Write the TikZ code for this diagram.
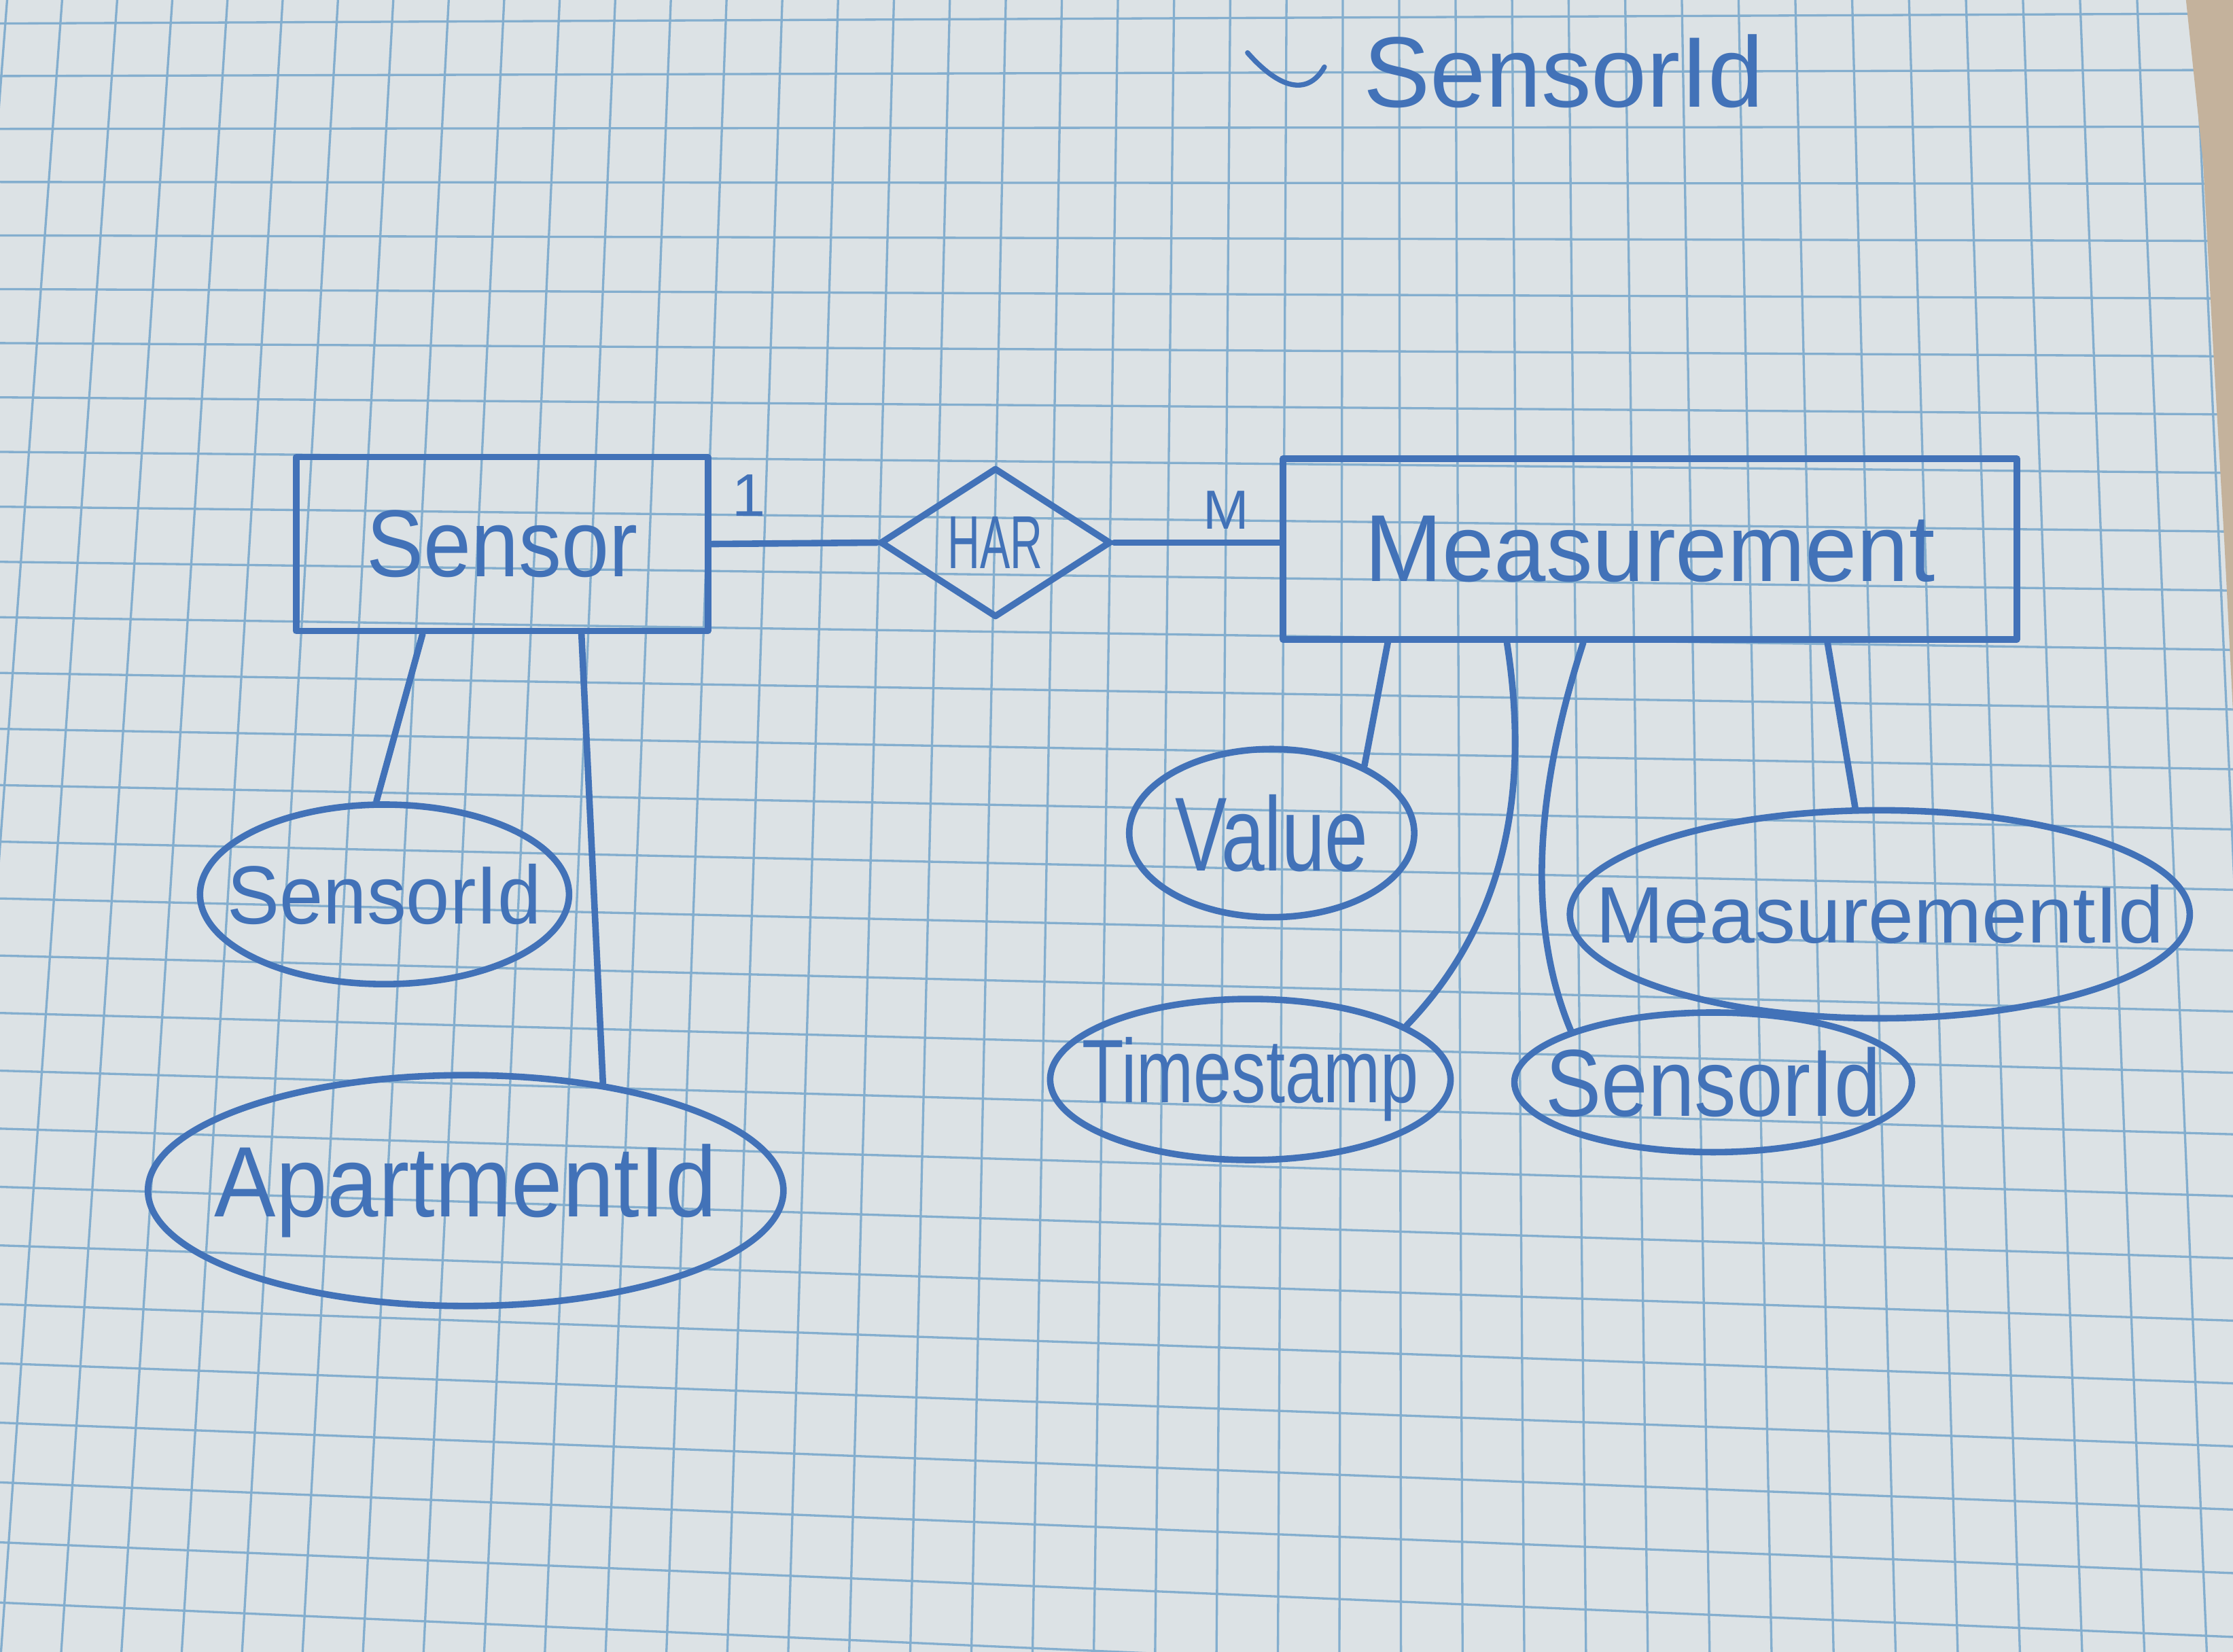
\documentclass[tikz,border=0pt]{standalone}
\usepackage{fontspec}
\setmainfont{Liberation Sans}
\usepackage{graphicx}
\usetikzlibrary{calc}
\usetikzlibrary{positioning}
\usetikzlibrary{shapes.geometric}

\definecolor{ink}{RGB}{66,114,184}
\definecolor{gridblue}{RGB}{132,174,206}
\definecolor{paper}{RGB}{220,226,229}
\definecolor{desk}{RGB}{196,178,156}

% handwritten-looking label: size, horizontal squeeze, text
\newcommand{\handtext}[3]{\fontsize{#1}{#1}\selectfont\makebox[0pt]{\scalebox{#2}[1]{#3}}}

\begin{document}
\begin{tikzpicture}[x=0.01cm, y=-0.01cm,
  pen/.style={ink, line width=1.3pt, line cap=round, line join=round},
  gridline/.style={gridblue, line width=0.45pt},
  entity/.style={pen, draw, rectangle, inner sep=0pt},
  rel/.style={pen, draw, diamond, inner sep=0pt},
  attr/.style={pen, draw, ellipse, inner sep=0pt},
  card/.style={text=ink, inner sep=0pt}]
\useasboundingbox (0,0) rectangle (1568,1160);
\fill[paper] (0,0) rectangle (1568,1160);
% squared paper
\begin{scope}
\clip (0,0) rectangle (1568,1160);
\foreach \i in {0,...,41} {
  \pgfmathsetmacro{\xt}{5+38.6*\i+0.02*\i*\i}
  \pgfmathsetmacro{\xb}{\xt+0.092*(\xt-969)}
  \draw[gridline] (\xt,0) -- (\xb,1160);
}
\foreach \n in {0,...,30} {
  \pgfmathsetmacro{\yl}{16.5+36.8*\n+0.1*\n*\n}
  \pgfmathsetmacro{\yr}{\yl-7+2.72*\n}
  \draw[gridline] (0,\yl) -- (1568,\yr);
}
\end{scope}
\fill[desk] (1535,0) -- (1547,114) -- (1554,243) -- (1562,382) -- (1568,500) -- (1568,0) -- cycle;

% note at the top
\node[card] (topid) at (1098,50) {\handtext{20}{1}{SensorId}};
\draw[pen, line width=1pt] (876,37) .. controls (898,62) and (918,68) .. (930,47);

% entities and relation
\node[entity, minimum width=2.89cm, minimum height=1.22cm] (sensor) at (352.5,382) {\handtext{19}{0.9}{Sensor}};
\node[entity, minimum width=5.15cm, minimum height=1.27cm] (meas) at (1158.5,385.5) {\handtext{19}{0.98}{Measurement}};
\node[rel, minimum width=1.62cm, minimum height=1.05cm] (har) at (699,381) {\handtext{15}{0.6}{HAR}};

% attributes
\node[attr, minimum width=2.59cm, minimum height=1.26cm] (sid) at (270,628) {\handtext{16.5}{0.95}{SensorId}};
\node[attr, minimum width=4.46cm, minimum height=1.62cm] (aid) at (327,836) {\handtext{20}{0.92}{ApartmentId}};
\node[attr, minimum width=2.0cm, minimum height=1.18cm] (val) at (893,585) {\handtext{21}{0.74}{Value}};
\node[attr, minimum width=2.81cm, minimum height=1.13cm] (ts) at (878,758) {\handtext{18}{0.76}{Timestamp}};
\node[attr, minimum width=2.79cm, minimum height=0.98cm] (sid2) at (1203,760) {\handtext{19}{0.88}{SensorId}};
\node[attr, minimum width=4.35cm, minimum height=1.46cm] (mid) at (1320,642) {\handtext{16}{1.02}{MeasurementId}};

% cardinalities
\node[card] (one) at (526,348) {\handtext{12}{1}{1}};
\node[card] (many) at (861,358) {\handtext{11}{1}{M}};

% connectors
\draw[pen] (sensor.east) -- (har.west);
\draw[pen] (har.east) -- (har.east -| meas.west);
\draw[pen] ($(sensor.south west)!0.31!(sensor.south east)$) -- (sid.95);
\draw[pen] ($(sensor.south west)!0.69!(sensor.south east)$) -- (aid.38);
\draw[pen] ($(meas.south west)!0.146!(meas.south east)$) -- (val.36);
\draw[pen] ($(meas.south west)!0.307!(meas.south east)$) .. controls (1072,540) and (1065,640) .. (ts.19);
\draw[pen] ($(meas.south west)!0.41!(meas.south east)$) .. controls (1083,540) and (1068,640) .. (sid2.160);
\draw[pen] ($(meas.south west)!0.74!(meas.south east)$) -- (mid.103);
\end{tikzpicture}
\end{document}
